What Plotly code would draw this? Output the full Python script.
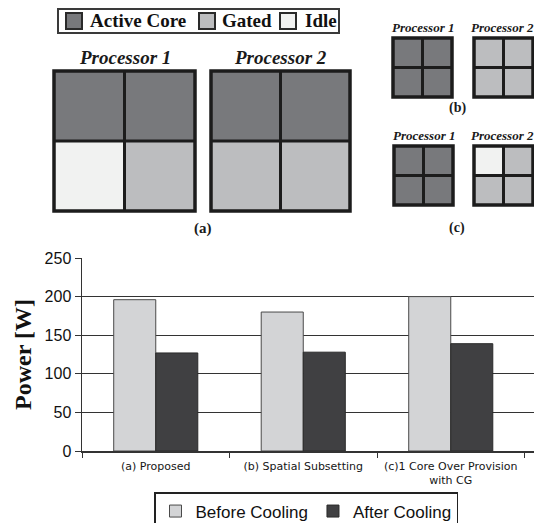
import plotly.graph_objects as go

W, H = 534, 523

# ---------------- data ----------------
categories = ["(a) Proposed", "(b) Spatial Subsetting", "(c)1 Core Over Provision<br>with CG"]
before_cooling = [196, 180, 200]
after_cooling = [127, 128, 139]
y_ticks = [0, 50, 100, 150, 200, 250]

core_states = ["Active Core", "Gated", "Idle"]
proc_a1 = [["Active Core", "Active Core"], ["Idle", "Gated"]]
proc_a2 = [["Active Core", "Active Core"], ["Gated", "Gated"]]
proc_b1 = [["Active Core", "Active Core"], ["Active Core", "Active Core"]]
proc_b2 = [["Gated", "Gated"], ["Gated", "Gated"]]
proc_c1 = [["Active Core", "Active Core"], ["Active Core", "Active Core"]]
proc_c2 = [["Idle", "Gated"], ["Gated", "Gated"]]
proc_titles = ["Processor 1", "Processor 2"]
panel_labels = ["(a)", "(b)", "(c)"]

# ---------------- styles ----------------
state_colors = {"Active Core": "#78797c", "Gated": "#bcbdbf", "Idle": "#f1f2f1"}
SERIF = "Liberation Serif, Times New Roman, serif"
SANS = "Liberation Sans, Arial, sans-serif"


def px(x):
    return x / W


def py(y):
    return 1 - y / H


fig = go.Figure()

# ---------------- bar chart ----------------
fig.add_trace(go.Bar(
    name="Before Cooling", x=categories, y=before_cooling,
    marker=dict(color="#d3d4d6", line=dict(color="#4a4a4a", width=1)),
    hoverinfo="skip"))
fig.add_trace(go.Bar(
    name="After Cooling", x=categories, y=after_cooling,
    marker=dict(color="#404042", line=dict(color="#2a2a2a", width=1)),
    hoverinfo="skip"))

# ---------------- processor diagrams (heatmaps) ----------------
panels = [
    (proc_a1, (54, 71, 195, 211), 0, 19, 0),
    (proc_a2, (211, 71, 350, 211), 1, 19, 0),
    (proc_b1, (393, 38, 452, 97), 0, 13, 0),
    (proc_b2, (474, 38, 533, 97), 1, 13, -1),
    (proc_c1, (394, 146, 453, 205), 0, 13, 0),
    (proc_c2, (474, 146, 533, 205), 1, 13, -1),
]
code = {s: i for i, s in enumerate(core_states)}
colorscale = [[0, state_colors["Active Core"]], [0.5, state_colors["Gated"]], [1, state_colors["Idle"]]]

shapes = []
annotations = []
layout_axes = {}
for k, (grid, (x0, y0, x1, y1), ti, tsize, tshift) in enumerate(panels):
    n = k + 2
    fig.add_trace(go.Heatmap(
        z=[[code[c] for c in row] for row in grid], x=[0, 1], y=[0, 1],
        xaxis=f"x{n}", yaxis=f"y{n}", zmin=0, zmax=2, colorscale=colorscale,
        showscale=False, hoverinfo="skip", xgap=0, ygap=0))
    layout_axes[f"xaxis{n}"] = dict(domain=[px(x0), px(x1)], range=[-0.5, 1.5], visible=False,
                                    anchor=f"y{n}", fixedrange=True, automargin=False)
    layout_axes[f"yaxis{n}"] = dict(domain=[py(y1), py(y0)], range=[1.5, -0.5], visible=False,
                                    anchor=f"x{n}", fixedrange=True, automargin=False)
    xr, yr = f"x{n} domain", f"y{n} domain"
    lc = "#1c1c1c"
    shapes.append(dict(type="rect", xref=xr, yref=yr, x0=0, x1=1, y0=0, y1=1,
                       line=dict(color=lc, width=3.5)))
    shapes.append(dict(type="line", xref=xr, yref=yr, x0=0.5, x1=0.5, y0=0, y1=1,
                       line=dict(color=lc, width=3)))
    shapes.append(dict(type="line", xref=xr, yref=yr, x0=0, x1=1, y0=0.5, y1=0.5,
                       line=dict(color=lc, width=3)))
    annotations.append(dict(xref=xr, yref=yr, x=0.5, y=1, xanchor="center", yanchor="bottom",
                            yshift=1, xshift=tshift, showarrow=False,
                            text=f"<b><i>{proc_titles[ti]}</i></b>",
                            font=dict(family=SERIF, size=tsize, color="#1a1a1a")))

# panel labels
for lab, (x, y, s) in zip(panel_labels, [(203, 228, 15), (457, 108, 14), (457, 228, 14)]):
    annotations.append(dict(xref="paper", yref="paper", x=px(x), y=py(y), xanchor="center",
                            yanchor="middle", showarrow=False, text=f"<b>{lab}</b>",
                            font=dict(family=SERIF, size=s, color="#1a1a1a")))

# key for the processor diagrams
shapes.append(dict(type="rect", xref="paper", yref="paper", x0=px(58), x1=px(339), y0=py(33), y1=py(9),
                   line=dict(color="#3a3a3a", width=2)))
for state, sx, tx in zip(core_states, [66, 199, 280], [88, 220, 303]):
    shapes.append(dict(type="rect", xref="paper", yref="paper", x0=px(sx), x1=px(sx + 16),
                       y0=py(29), y1=py(13), fillcolor=state_colors[state],
                       line=dict(color="#2a2a2a", width=2)))
    annotations.append(dict(xref="paper", yref="paper", x=px(tx), y=py(21), xanchor="left",
                            yanchor="middle", showarrow=False, text=f"<b>{state}</b>",
                            font=dict(family=SERIF, size=19, color="#111111")))

cat_w = 147.5
plot_left = 82
x_hi = -0.5 + (W - plot_left) / cat_w

fig.update_layout(
    width=W, height=H, margin=dict(l=0, r=0, t=0, b=0, autoexpand=False),
    paper_bgcolor="white", plot_bgcolor="white",
    barmode="group", bargap=0.43, bargroupgap=0,
    hovermode=False,
    xaxis=dict(domain=[px(plot_left), 1], type="category", range=[-0.5, x_hi],
               showline=True, linecolor="#333333", linewidth=1.5,
               ticks="outside", tickson="boundaries", ticklen=5, tickcolor="#333333",
               ticklabelstandoff=4,
               tickfont=dict(family="DejaVu Sans, sans-serif", size=11, color="#161616"),
               showgrid=False, fixedrange=True, automargin=False),
    yaxis=dict(domain=[py(451), py(258)], range=[0, 250], tickvals=y_ticks,
               showline=True, linecolor="#333333", linewidth=1.5,
               ticks="outside", ticklen=6, tickcolor="#333333",
               showgrid=True, gridcolor="#333333", gridwidth=1.2, zeroline=False,
               tickfont=dict(family=SANS, size=16, color="#111111"),
               title=dict(text="<b>Power [W]</b>", standoff=6,
                          font=dict(family=SERIF, size=24, color="#111111")),
               fixedrange=True, automargin=False),
    legend=dict(orientation="h", xanchor="center", x=px(306), yanchor="top", y=py(492),
                bordercolor="#222222", borderwidth=1.5, bgcolor="white",
                font=dict(family=SANS, size=17, color="#111111"), traceorder="normal"),
    shapes=shapes, annotations=annotations,
    **layout_axes,
)

fig.write_html(
    "out.html",
    config={"displayModeBar": False, "staticPlot": True},
    post_script="document.body.style.margin='0';document.body.style.overflow='hidden';",
)
